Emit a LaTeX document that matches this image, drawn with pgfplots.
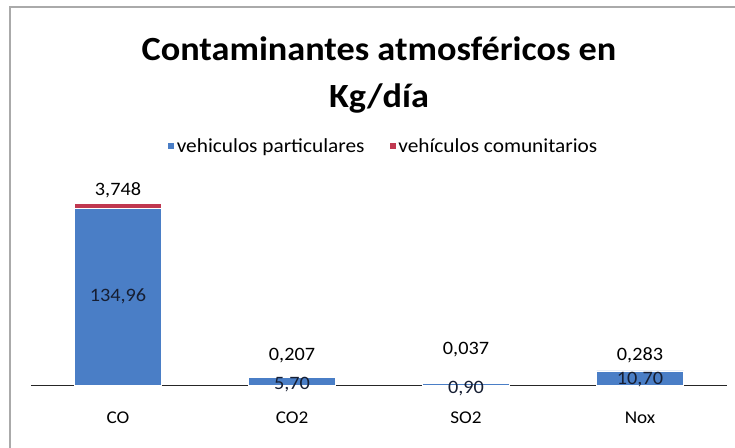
\documentclass[border=0pt]{standalone}
\usepackage{pgfplots}
\pgfplotsset{compat=1.18}
\usepackage{pgfplotstable}
\usepackage{fontspec}
\setmainfont{Carlito}[FakeStretch=1.07]

\definecolor{cblue}{RGB}{74,126,198}
\definecolor{cred}{RGB}{192,56,80}
\definecolor{clabel}{RGB}{22,30,50}
\definecolor{cframe}{RGB}{170,170,170}

\pgfplotstableread{
x y lab sh
0 134.96 134,96 0
1 5.70 5,70 -3
2 0.90 0,90 -4
3 10.70 10,70 -2
}\partic
\pgfplotstableread{
x y lab sh
0 3.748 3,748 15
1 0.207 0,207 22
2 0.037 0,037 34
3 0.283 0,283 16
}\comun

\begin{document}
\begin{tikzpicture}
\path[use as bounding box] (-31bp,-63bp) rectangle (704bp,385bp);
\draw[cframe, line width=1.5bp] (-21bp,-63bp) -- (-21bp,378bp) -- (704bp,378bp);
\begin{axis}[
  scale only axis, width=696bp, height=190bp,
  xmin=-0.5, xmax=3.5, ymin=0, ymax=144.9,
  clip=false,
  ybar stacked, bar width=87bp,
  axis x line=bottom, axis y line=none,
  x axis line style={-, black!85, line width=0.8bp},
  xtick={0,1,2,3}, xticklabels={CO,CO2,SO2,Nox},
  major tick length=0pt,
  xticklabel style={anchor=center, yshift=-33bp, font=\fontsize{18}{20}\selectfont},
  title={Contaminantes atmosféricos en\\Kg/día},
  title style={at={(0.5,1.6),}, anchor=center, align=center, font=\bfseries\fontsize{34}{48}\selectfont},
  legend style={at={(0.506,1.258)}, anchor=center, draw=none, fill=none,
    legend columns=2, font=\fontsize{20}{22}\selectfont,
    /tikz/every even column/.append style={column sep=22bp}},
  legend image code/.code={\fill[#1] (2bp,-3.5bp) rectangle (9bp,3.5bp);},
  point meta=explicit symbolic,
  nodes near coords,
  visualization depends on={\thisrow{sh} \as \sh},
  every node near coord/.append style={anchor=center, yshift=\sh bp, font=\fontsize{19}{21}\selectfont},
]
\addplot[fill=cblue, draw=white, line width=0.8bp,
  every node near coord/.append style={text=clabel}] table[x=x, y=y, meta=lab] {\partic};
\addplot[fill=cred, draw=white, line width=0.8bp,
  every node near coord/.append style={text=black}] table[x=x, y=y, meta=lab] {\comun};
\legend{vehiculos particulares, vehículos comunitarios}
\end{axis}
\end{tikzpicture}
\end{document}
